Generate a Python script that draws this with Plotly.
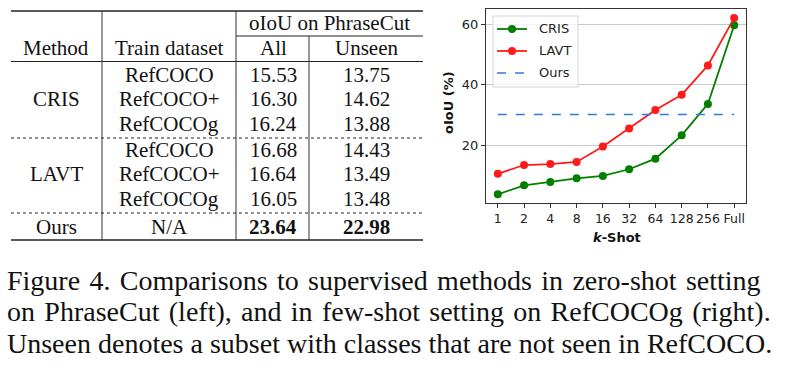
import plotly.graph_objects as go

# ---------------- data ----------------
shots = ["1", "2", "4", "8", "16", "32", "64", "128", "256", "Full"]
cris_oiou = [3.8, 6.8, 7.9, 9.1, 9.9, 12.1, 15.6, 23.3, 33.7, 59.7]
lavt_oiou = [10.6, 13.5, 13.8, 14.5, 19.6, 25.6, 31.7, 36.7, 46.4, 62.1]
ours_oiou = 30.2

series_names = ["CRIS", "LAVT", "Ours"]
series_colors = ["#008000", "#ff1a1a", "#2f7bd6"]

table_methods = ["CRIS", "LAVT", "Ours"]
table_train = ["RefCOCO", "RefCOCO+", "RefCOCOg",
               "RefCOCO", "RefCOCO+", "RefCOCOg", "N/A"]
table_all = [15.53, 16.30, 16.24, 16.68, 16.64, 16.05, 23.64]
table_unseen = [13.75, 14.62, 13.88, 14.43, 13.49, 13.48, 22.98]

caption_lines = [
    "Figure 4. Comparisons to supervised methods in zero-shot setting",
    "on PhraseCut (left), and in few-shot setting on RefCOCOg (right).",
    "Unseen denotes a subset with classes that are not seen in RefCOCO.",
]

W, H = 786, 369


def px(x):
    return x / W


def py(y):
    return 1 - y / H


SERIF = "Liberation Serif, Times New Roman, serif"
SANS = "DejaVu Sans, sans-serif"

fig = go.Figure()

fig.add_trace(go.Scatter(
    x=shots, y=cris_oiou, name=series_names[0], mode="lines+markers",
    line=dict(color=series_colors[0], width=1.8),
    marker=dict(color=series_colors[0], size=8)))
fig.add_trace(go.Scatter(
    x=shots, y=lavt_oiou, name=series_names[1], mode="lines+markers",
    line=dict(color=series_colors[1], width=1.8),
    marker=dict(color=series_colors[1], size=8)))
fig.add_trace(go.Scatter(
    x=[shots[0], shots[-1]], y=[ours_oiou, ours_oiou], name=series_names[2],
    mode="lines", line=dict(color=series_colors[2], width=1.6, dash="dash")))

fig.update_layout(
    width=W, height=H,
    margin=dict(l=0, r=0, t=0, b=0),
    paper_bgcolor="white", plot_bgcolor="white",
    showlegend=False,
    xaxis=dict(
        domain=[px(486), px(746)], type="category",
        range=[-0.45, 9.45], showgrid=False,
        showline=True, mirror=True, linecolor="#333", linewidth=1,
        ticks="outside", ticklen=4, tickcolor="#333", tickangle=0,
        tickfont=dict(family=SANS, size=12.5, color="#222"),
        zeroline=False, fixedrange=True,
    ),
    yaxis=dict(
        domain=[py(203.3), py(9)],
        range=[0.85, 65.05], tickvals=[20, 40, 60],
        showgrid=True, gridcolor="#c8c8c8", gridwidth=1,
        showline=True, mirror=True, linecolor="#333", linewidth=1,
        ticks="outside", ticklen=4, tickcolor="#333",
        tickfont=dict(family=SANS, size=13, color="#222"),
        zeroline=False, fixedrange=True,
    ),
)

annotations = []
shapes = []

# axis titles
annotations.append(dict(
    x=px(448), y=py(103), xref="paper", yref="paper", text="<b>oIoU (%)</b>",
    textangle=-90, showarrow=False, xanchor="center", yanchor="middle",
    font=dict(family=SANS, size=13, color="#111")))
annotations.append(dict(
    x=px(617), y=py(238), xref="paper", yref="paper",
    text="<b><i>k</i>-Shot</b>", showarrow=False,
    xanchor="center", yanchor="middle",
    font=dict(family=SANS, size=13, color="#111")))

# ---------------- legend (drawn) ----------------
shapes.append(dict(type="rect", xref="paper", yref="paper",
                   x0=px(493), x1=px(578), y0=py(87), y1=py(16),
                   fillcolor="rgba(255,255,255,0.8)",
                   line=dict(color="#d4d4d4", width=1)))
leg_y = [29, 51, 73]
for i, (nm, col) in enumerate(zip(series_names, series_colors)):
    yy = leg_y[i]
    shapes.append(dict(type="line", xref="paper", yref="paper",
                       x0=px(497), x1=px(527), y0=py(yy), y1=py(yy),
                       line=dict(color=col, width=1.8 if i < 2 else 1.6,
                                 dash="solid" if i < 2 else "dash")))
    if i < 2:
        shapes.append(dict(type="circle", xref="paper", yref="paper",
                           xsizemode="pixel", ysizemode="pixel",
                           xanchor=px(512), yanchor=py(yy),
                           x0=-4, x1=4, y0=-4, y1=4,
                           fillcolor=col, line=dict(color=col, width=0)))
    annotations.append(dict(
        x=px(537), y=py(yy), xref="paper", yref="paper", text=nm,
        showarrow=False, xanchor="left", yanchor="middle", align="left",
        font=dict(family=SANS, size=13, color="#222")))

# ---------------- table ----------------
L, R = 11, 423
V1, V2, V3 = 102, 236, 309


def hline(y, x0, x1, width=1.0, dash="solid"):
    shapes.append(dict(type="line", xref="paper", yref="paper",
                       x0=px(x0), x1=px(x1), y0=py(y), y1=py(y),
                       line=dict(color="#222", width=width, dash=dash)))


def vline(x, y0, y1, width=1.0):
    shapes.append(dict(type="line", xref="paper", yref="paper",
                       x0=px(x), x1=px(x), y0=py(y0), y1=py(y1),
                       line=dict(color="#333", width=width)))


hline(11, L, R, 1.3)
hline(36, V2, R, 1.0)
hline(61.5, L, R, 1.0)
hline(138, L, R, 1.0, "dot")
hline(213, L, R, 1.0, "dot")
hline(240, L, R, 1.3)
vline(V1, 11, 240)
vline(V2, 11, 240)
vline(V3, 36, 240)


def cell(x, y, text, size=21):
    annotations.append(dict(
        x=px(x), y=py(y), xref="paper", yref="paper", text=text,
        showarrow=False, xanchor="center", yanchor="middle",
        font=dict(family=SERIF, size=size, color="#111")))


col_method, col_train, col_all, col_unseen = 56, 169, 273, 366
cell((V2 + R) / 2, 23, "oIoU on PhraseCut")
cell(col_method, 48, "Method")
cell(col_train, 48, "Train dataset")
cell(col_all, 48, "All")
cell(col_unseen, 48, "Unseen")

row_y = [75, 99, 124, 150, 174, 199, 227]
method_y = [99, 174, 227]
for m, yy in zip(table_methods, method_y):
    cell(col_method, yy, m)
for i, yy in enumerate(row_y):
    cell(col_train, yy, table_train[i])
    a = f"{table_all[i]:.2f}"
    u = f"{table_unseen[i]:.2f}"
    if i == len(row_y) - 1:
        a, u = f"<b>{a}</b>", f"<b>{u}</b>"
    cell(col_all, yy, a)
    cell(col_unseen, yy, u)

# ---------------- caption ----------------
cap_y = [280, 311, 343]
for k, (t, yy) in enumerate(zip(caption_lines, cap_y)):
    if k < 2:  # justified lines: widen word gaps slightly
        t = t.replace(" ", " \u200a")
    annotations.append(dict(
        x=px(5), y=py(yy), xref="paper", yref="paper", text=t,
        showarrow=False, xanchor="left", yanchor="middle", align="left",
        font=dict(family=SERIF, size=28, color="#111")))

fig.update_layout(annotations=annotations, shapes=shapes)
fig.write_html("out.html",
               config={"displayModeBar": False, "staticPlot": True},
               post_script="document.body.style.margin='0';"
                           "document.body.style.padding='0';")
